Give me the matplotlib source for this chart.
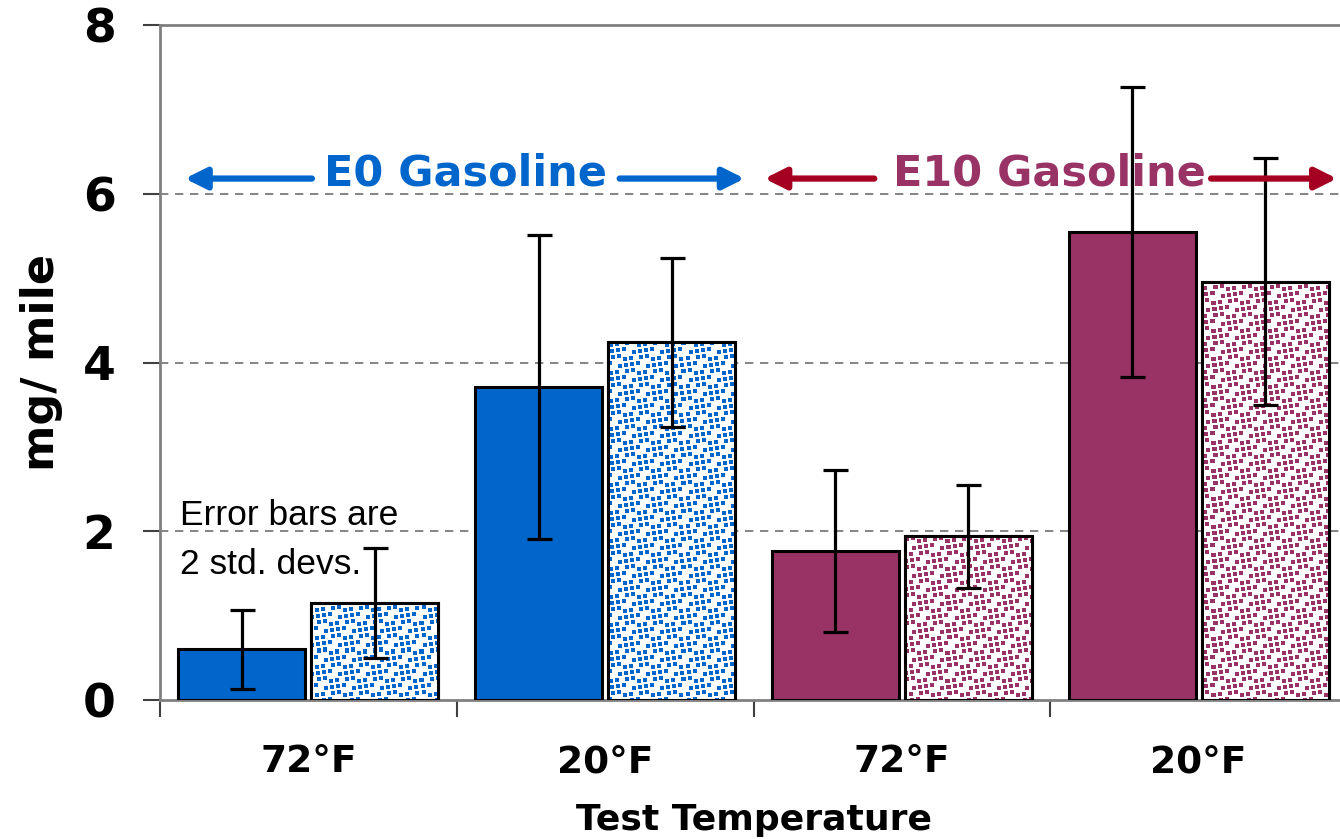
import matplotlib

matplotlib.use("Agg")
import matplotlib.pyplot as plt
from matplotlib.colors import to_rgba
import numpy as np

# emissions by test temperature, two fuels, two vehicle sets per temperature
temps = ["72°F", "20°F", "72°F", "20°F"]
solid_vals = [0.60, 3.71, 1.77, 5.55]
solid_err = [0.47, 1.80, 0.96, 1.72]
dotted_vals = [1.15, 4.24, 1.94, 4.96]
dotted_err = [0.65, 1.00, 0.61, 1.46]
fuels = ["E0 Gasoline", "E10 Gasoline"]

BLUE = "#0066CC"
PLUM = "#993366"
RED = "#A50021"
GREY = "#808080"

plt.rcParams.update({"font.family": "DejaVu Sans"})

W_PX, H_PX = 1340, 839
fig = plt.figure(figsize=(W_PX / 100, H_PX / 100), dpi=100)
ax = fig.add_axes([160 / W_PX, 1 - 700 / H_PX, 1187 / W_PX, 675 / H_PX])


def stipple(color, w=1187, h=675, pitch=7, dot=4):
    """Small square dots on white, nudged inside each cell so the grid doesn't show."""
    yy, xx = np.mgrid[0:h, 0:w]
    i, j = yy // pitch, xx // pitch
    dx = (i * 5 + j * 3) % (pitch - dot + 1)
    dy = (i * 3 + j * 7) % (pitch - dot + 1)
    u = xx % pitch - dx
    v = yy % pitch - dy
    on = (u >= 0) & (u < dot) & (v >= 0) & (v < dot)
    img = np.ones((h, w, 4))
    img[on] = to_rgba(color)
    return img


n = len(temps)
x = np.arange(n) + 0.5
w = 0.428
off = 0.224
fill = [BLUE, BLUE, PLUM, PLUM]
textures = {c: stipple(c) for c in (BLUE, PLUM)}

ax.bar(x - off, solid_vals, w, color=fill, edgecolor="black", linewidth=2.2, zorder=3)
dotted = ax.bar(x + off, dotted_vals, w, color="white", edgecolor="black",
                linewidth=2.2, zorder=3)
for patch, c in zip(dotted, fill):
    im = ax.imshow(textures[c], extent=(0, n, 0, 8), aspect="auto",
                   interpolation="nearest", zorder=3.5)
    im.set_clip_path(patch)
# outlines drawn again on top of the texture
ax.bar(x + off, dotted_vals, w, fill=False, edgecolor="black", linewidth=2.2, zorder=4)

ekw = dict(fmt="none", ecolor="black", elinewidth=2.3, capsize=9, capthick=2.3, zorder=5)
ax.errorbar(x - off, solid_vals, yerr=solid_err, **ekw)
ax.errorbar(x + off, dotted_vals, yerr=dotted_err, **ekw)

ax.set_xlim(0, n)
ax.set_ylim(0, 8)
ax.set_yticks([0, 2, 4, 6, 8])
ax.set_xticks(np.arange(n + 1))
ax.set_xticklabels([])
ax.set_xticks(x, minor=True)
ax.set_xticklabels(temps, minor=True, fontsize=27, fontweight="bold")
ax.tick_params(axis="x", which="major", direction="out", length=12, width=1.5,
               color="#404040")
ax.tick_params(axis="x", which="minor", length=0, pad=32)
ax.tick_params(axis="y", direction="out", length=12, width=1.5, color="#404040",
               pad=20, labelsize=34)
for lab in ax.get_yticklabels():
    lab.set_fontweight("bold")

for s in ax.spines.values():
    s.set_color(GREY)
    s.set_linewidth(2)
ax.spines["right"].set_visible(False)

for yv in [2, 4, 6]:
    ax.axhline(yv, color="#707070", lw=1.2, ls=(0, (5, 4)), zorder=1)

ax.set_xlabel("Test Temperature", fontsize=26, fontweight="bold", labelpad=16)
ax.set_ylabel("mg/ mile", fontsize=32, fontweight="bold", labelpad=14)

ax.text(0.068, 2.38, "Error bars are\n2 std. devs.", family="Liberation Sans",
        fontsize=25.5, linespacing=1.6, va="top", ha="left", zorder=6)

# fuel labels, each with arrows out to the edges of its two groups
label_x = [1.03, 2.997]
arrow_tips = [(0.084, 1.97), (2.037, 3.966)]
arrow_tails = [(0.512, 1.549), (2.407, 3.542)]
arrow_kw = dict(arrowstyle="-|>", lw=4.5, mutation_scale=32, shrinkA=0, shrinkB=0)
ya = 6.18
for name, cx, tips, tails, col, acol in zip(fuels, label_x, arrow_tips, arrow_tails,
                                            [BLUE, PLUM], [BLUE, RED]):
    ax.text(cx, 6.24, name, color=col, fontsize=31, fontweight="bold",
            ha="center", va="center", zorder=6)
    for tip, tail in zip(tips, tails):
        ax.annotate("", xy=(tip, ya), xytext=(tail, ya),
                    arrowprops=dict(color=acol, **arrow_kw), zorder=6)

fig.savefig("out.png", dpi=100)
